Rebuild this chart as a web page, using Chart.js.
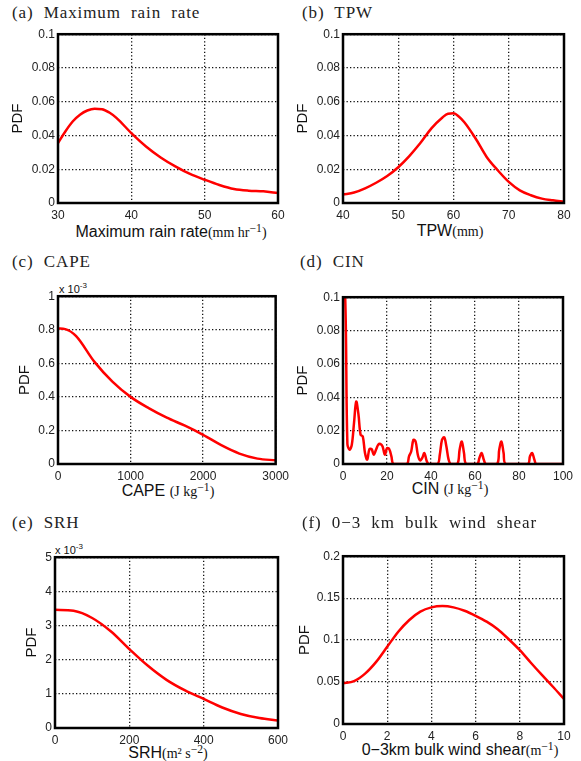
<!DOCTYPE html>
<html>
<head>
<meta charset="utf-8">
<script src="https://cdn.jsdelivr.net/npm/chart.js@4.4.1/dist/chart.umd.min.js"></script>
<style>
  body { margin: 0; background: #fff; width: 581px; height: 761px; position: relative; overflow: hidden;
         font-family: "Liberation Sans", Arial, sans-serif; }
  .box { position: absolute; }
  .ttl { position: absolute; font-family: "Liberation Serif", serif; font-size: 17px; white-space: nowrap;
         color: #222; word-spacing: 5px; letter-spacing: 0.9px; transform: translateY(-50%); }
  .xl { position: absolute; white-space: nowrap; font-size: 16px; color: #111; transform: translate(-50%, -50%); }
  .xl span { font-family: "Liberation Serif", serif; font-size: 14px; }
  .ex { position: absolute; font-size: 11px; color: #111; transform: translateY(-50%); }
  .ex sup { font-size: 8px; }
</style>
</head>
<body>
<script>
// (a) Maximum rain rate
var rainX = [30, 31, 32, 33, 34, 35, 36, 37, 38, 40, 42, 44, 46, 48, 50, 52, 54, 56, 58, 60];
var rainPdf = [0.0355, 0.0424, 0.0483, 0.0523, 0.0548, 0.0558, 0.0556, 0.0536, 0.0503, 0.0414,
               0.0335, 0.0270, 0.0217, 0.0172, 0.0138, 0.0107, 0.0083, 0.0073, 0.0069, 0.0059];

// (b) TPW
var tpwX = [40, 42, 44, 46, 48, 50, 52, 54, 56, 58, 59, 60, 61, 62, 64, 66, 68, 70, 72, 74, 76, 78, 80];
var tpwPdf = [0.0050, 0.0062, 0.0087, 0.0120, 0.0160, 0.0212, 0.0278, 0.0355, 0.0442, 0.0507, 0.0529,
              0.0531, 0.0511, 0.0477, 0.0382, 0.0273, 0.0194, 0.0125, 0.0075, 0.0046, 0.0026, 0.0016, 0.0008];

// (c) CAPE
var capeX = [0, 100, 250, 500, 750, 1000, 1250, 1500, 1750, 2000, 2250, 2500, 2750, 3000];
var capePdf = [0.000808, 0.000804, 0.000762, 0.000610, 0.000491, 0.000400, 0.000333, 0.000276,
               0.000228, 0.000174, 0.000112, 0.000062, 0.000032, 0.000022];

// (d) CIN
var cinX = [0, 1, 2, 3, 4, 5, 6, 7, 8, 9, 10, 11, 12, 13, 14, 15, 16, 17, 18, 19, 20, 21, 22, 23,
            29, 30, 31, 32, 33, 34, 35, 36, 37, 38, 39, 43, 44, 45, 46, 47, 48, 49, 52, 53, 54, 55, 56,
            61, 62, 63, 64, 65, 70, 71, 72, 73, 74, 84, 85, 86, 87, 88, 100];
var cinPdf = [0.1, 0.1, 0.012, 0.0085, 0.0115, 0.0245, 0.0374, 0.030, 0.0175, 0.0165, 0.0066, 0.0026,
              0.0089, 0.0089, 0.0056, 0.0085, 0.0115, 0.012, 0.0105, 0.0056, 0.0095, 0.009, 0.0046, 0,
              0, 0.0046, 0.0075, 0.0145, 0.0135, 0.0056, 0.0022, 0.0036, 0.0066, 0.002, 0, 0, 0.0056,
              0.0145, 0.016, 0.0105, 0.0026, 0, 0, 0.0085, 0.0135, 0.0066, 0,
              0, 0.0036, 0.0066, 0.0026, 0, 0, 0.0085, 0.0135, 0.0066, 0, 0, 0.0046, 0.0066, 0.0026, 0, 0];

// (e) SRH
var srhX = [0, 50, 100, 150, 200, 250, 300, 350, 400, 450, 500, 550, 600];
var srhPdf = [0.00346, 0.00343, 0.00322, 0.00283, 0.00231, 0.00182, 0.00141, 0.00110, 0.00085,
              0.00060, 0.00041, 0.00029, 0.00022];

// (f) 0-3 km bulk wind shear
var shearX = [0, 0.5, 1, 1.5, 2, 2.5, 3, 3.5, 4, 4.5, 5, 5.5, 6, 6.5, 7, 7.5, 8, 8.5, 9, 9.5, 10];
var shearPdf = [0.0484, 0.051, 0.060, 0.074, 0.092, 0.110, 0.124, 0.134, 0.139, 0.1405, 0.139, 0.135,
                0.129, 0.122, 0.113, 0.101, 0.088, 0.073, 0.0585, 0.0444, 0.0298];

// tick values and labels
var rainTicks = [30, 40, 50, 60];
var tpwTicks = [40, 50, 60, 70, 80];
var capeTicks = [0, 1000, 2000, 3000];
var cinTicks = [0, 20, 40, 60, 80, 100];
var srhTicks = [0, 200, 400, 600];
var shearTicks = [0, 2, 4, 6, 8, 10];

var pdfTicks01 = [0, 0.02, 0.04, 0.06, 0.08, 0.1];
var pdfLabels01 = ['0', '0.02', '0.04', '0.06', '0.08', '0.1'];
var capePdfTicks = [0, 0.0002, 0.0004, 0.0006, 0.0008, 0.001];
var capePdfLabels = ['0', '0.2', '0.4', '0.6', '0.8', '1'];
var srhPdfTicks = [0, 0.001, 0.002, 0.003, 0.004, 0.005];
var srhPdfLabels = ['0', '1', '2', '3', '4', '5'];
var shearPdfTicks = [0, 0.05, 0.1, 0.15, 0.2];
var shearPdfLabels = ['0', '0.05', '0.1', '0.15', '0.2'];

// panel layout: plot box [left, top, width, height], yw = y axis width
var panels = [
  { title: '(a)  Maximum rain rate', tx: 12, ty: 13,
    xlab: 'Maximum rain rate<span>(mm hr<sup>−1</sup>)</span>', lx: 171, ly: 231,
    xs: rainX, ys: rainPdf, xTicks: rainTicks, yTicks: pdfTicks01, yLabels: pdfLabels01,
    box: [58, 34, 220, 169], yw: 53, tension: 0 },
  { title: '(b)  TPW', tx: 302, ty: 13,
    xlab: 'TPW<span>(mm)</span>', lx: 450, ly: 231,
    xs: tpwX, ys: tpwPdf, xTicks: tpwTicks, yTicks: pdfTicks01, yLabels: pdfLabels01,
    box: [343, 34, 221, 169], yw: 53, tension: 0 },
  { title: '(c)  CAPE', tx: 12, ty: 262,
    xlab: 'CAPE <span>(J kg<sup>−1</sup>)</span>', lx: 168, ly: 490,
    xs: capeX, ys: capePdf, xTicks: capeTicks, yTicks: capePdfTicks, yLabels: capePdfLabels,
    box: [58, 296, 220, 168], yw: 46, ex: [59, 288], tension: 0 },
  { title: '(d)  CIN', tx: 300, ty: 262,
    xlab: 'CIN <span>(J kg<sup>−1</sup>)</span>', lx: 450, ly: 488,
    xs: cinX, ys: cinPdf, xTicks: cinTicks, yTicks: pdfTicks01, yLabels: pdfLabels01,
    box: [343, 297, 220, 167], yw: 53, tension: 0.35 },
  { title: '(e)  SRH', tx: 12, ty: 523,
    xlab: 'SRH<span>(m² s<sup>−2</sup>)</span>', lx: 168, ly: 752,
    xs: srhX, ys: srhPdf, xTicks: srhTicks, yTicks: srhPdfTicks, yLabels: srhPdfLabels,
    box: [55, 557, 223, 171], yw: 36, ex: [55, 549], tension: 0 },
  { title: '(f)  0−3 km bulk wind shear', tx: 302, ty: 523,
    xlab: '0−3km bulk wind shear<span>(m<sup>−1</sup>)</span>', lx: 460, ly: 749,
    xs: shearX, ys: shearPdf, xTicks: shearTicks, yTicks: shearPdfTicks, yLabels: shearPdfLabels,
    box: [343, 556, 221, 168], yw: 51, tension: 0 }
];

// thick black frame around each plot area
var framePlugin = {
  id: 'frame',
  afterDatasetsDraw: function (chart) {
    var a = chart.chartArea, c = chart.ctx;
    c.save();
    c.strokeStyle = '#000';
    c.lineWidth = 2.5;
    c.strokeRect(a.left, a.top, a.right - a.left, a.bottom - a.top);
    c.restore();
  }
};

var PADT = 10, PADR = 16, XH = 24;

panels.forEach(function (p) {
  var L = p.box[0], T = p.box[1], W = p.box[2], H = p.box[3];

  var t = document.createElement('div');
  t.className = 'ttl';
  t.style.left = p.tx + 'px';
  t.style.top = p.ty + 'px';
  t.textContent = p.title;
  document.body.appendChild(t);

  var xl = document.createElement('div');
  xl.className = 'xl';
  xl.style.left = p.lx + 'px';
  xl.style.top = p.ly + 'px';
  xl.innerHTML = p.xlab;
  document.body.appendChild(xl);

  if (p.ex) {
    var ex = document.createElement('div');
    ex.className = 'ex';
    ex.style.left = p.ex[0] + 'px';
    ex.style.top = p.ex[1] + 'px';
    ex.innerHTML = 'x 10<sup>-3</sup>';
    document.body.appendChild(ex);
  }

  var box = document.createElement('div');
  box.className = 'box';
  var cw = W + p.yw + PADR, ch = H + PADT + XH;
  box.style.left = (L - p.yw) + 'px';
  box.style.top = (T - PADT) + 'px';
  box.style.width = cw + 'px';
  box.style.height = ch + 'px';
  var cv = document.createElement('canvas');
  box.appendChild(cv);
  document.body.appendChild(box);

  var pts = p.xs.map(function (x, i) { return { x: x, y: p.ys[i] }; });

  var ds = {
    data: pts,
    borderColor: '#ff0000',
    borderWidth: 2.5,
    pointRadius: 0,
    fill: false
  };
  if (p.tension) ds.tension = p.tension;
  else ds.cubicInterpolationMode = 'monotone';

  new Chart(cv.getContext('2d'), {
    type: 'line',
    data: { datasets: [ds] },
    options: {
      responsive: true,
      maintainAspectRatio: false,
      animation: false,
      layout: { padding: { top: PADT, right: PADR, left: 0, bottom: 0 } },
      plugins: { legend: { display: false }, tooltip: { enabled: false } },
      scales: {
        x: {
          type: 'linear',
          min: p.xTicks[0],
          max: p.xTicks[p.xTicks.length - 1],
          afterBuildTicks: function (s) { s.ticks = p.xTicks.map(function (v) { return { value: v }; }); },
          afterFit: function (s) { s.height = XH; },
          grid: { color: '#111', lineWidth: 1.3, drawTicks: false },
          border: { display: false, dash: [1.3, 2.2] },
          ticks: {
            color: '#222', font: { family: 'Liberation Sans', size: 12 }, padding: 5, maxRotation: 0,
            callback: function (v, i) { return String(p.xTicks[i]); }
          }
        },
        y: {
          type: 'linear',
          min: p.yTicks[0],
          max: p.yTicks[p.yTicks.length - 1],
          afterBuildTicks: function (s) { s.ticks = p.yTicks.map(function (v) { return { value: v }; }); },
          afterFit: function (s) { s.width = p.yw; },
          grid: { color: '#111', lineWidth: 1.3, drawTicks: false },
          border: { display: false, dash: [1.3, 2.2] },
          ticks: {
            color: '#222', font: { family: 'Liberation Sans', size: 12 }, padding: 3,
            callback: function (v, i) { return p.yLabels[i]; }
          },
          title: { display: true, text: 'PDF', color: '#111', font: { family: 'Liberation Sans', size: 15 } }
        }
      }
    },
    plugins: [framePlugin]
  });
});
</script>
</body>
</html>
